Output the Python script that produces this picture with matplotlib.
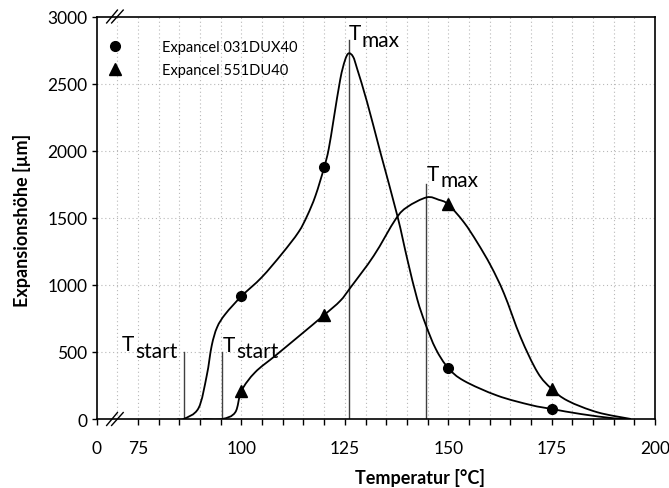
import matplotlib
matplotlib.use("Agg")
import matplotlib.pyplot as plt
import numpy as np
from matplotlib.path import Path
from matplotlib.patches import PathPatch

plt.rcParams['font.family'] = ['Lato', 'DejaVu Sans']

# ---- data ----
# Expancel 031DUX40 curve
t1 = [84.5, 86.0, 89.6, 91.6, 92.8, 94.1, 96.1, 100.0, 104.9, 109.8, 113.8, 115.9,
      117.9, 120.0, 121.1, 122.3, 123.9, 125.0, 125.9, 127.0, 128.0, 130.4, 133.6,
      137.7, 140.1, 142.5, 144.5, 147.0, 150.0, 153.8, 161.9, 170.0, 175.0, 182.1,
      190.1, 194.2]
v1 = [0, 0, 80, 323, 546, 683, 782, 915, 1056, 1232, 1393, 1515,
      1664, 1875, 2012, 2235, 2533, 2670, 2725, 2700, 2608, 2360, 1987,
      1515, 1192, 894, 708, 522, 380, 285, 174, 104, 75, 37,
      5, 0]
# Expancel 551DU40 curve
t2 = [90.7, 95.3, 98.5, 100.0, 103.3, 108.2, 114.0, 120.0, 123.9, 126.4, 132.0,
      137.3, 140.1, 144.8, 147.7, 150.0, 153.8, 157.0, 160.3, 163.5, 167.5,
      171.6, 175.0, 178.9, 186.1, 194.2]
v2 = [0, 0, 50, 210, 348, 472, 620, 775, 881, 981, 1217,
      1490, 1580, 1652, 1634, 1600, 1466, 1317, 1142, 935, 610,
      348, 225, 136, 50, 0]
# measured points (markers)
m_t = [100, 120, 150, 175]
m1_v = [915, 1875, 380, 75]
m2_v = [210, 775, 1600, 225]
labels = ['Expancel 031DUX40', 'Expancel 551DU40']

# characteristic temperatures
t_start = [86.1, 95.3]
t_start_top = [500, 500]
t_max = [125.9, 144.7]
t_max_top = [2824, 1755]

x_ticks = [65, 75, 100, 125, 150, 175, 200]
x_ticklabels = ['0', '75', '100', '125', '150', '175', '200']
y_ticks = [0, 500, 1000, 1500, 2000, 2500, 3000]


def smooth_path(x, y):
    """Excel-like smoothed line: cubic Bezier through the given points."""
    pts = np.column_stack([x, y]).astype(float)
    n = len(pts)
    verts = [pts[0]]
    codes = [Path.MOVETO]
    for i in range(n - 1):
        p0 = pts[i - 1] if i > 0 else pts[i]
        p1 = pts[i]
        p2 = pts[i + 1]
        p3 = pts[i + 2] if i + 2 < n else pts[i + 1]
        c1 = p1 + (p2 - p0) / 6.0
        c2 = p2 - (p3 - p1) / 6.0
        verts += [c1, c2, p2]
        codes += [Path.CURVE4] * 3
    return Path(verts, codes)


fig = plt.figure(figsize=(6.69, 4.89), dpi=100)
ax = fig.add_axes([0.1446, 0.1411, 0.8344, 0.8231])
ax.set_xlim(65, 200)
ax.set_ylim(0, 3000)

# grid
grid_kw = dict(color='#b8b8b8', lw=0.8, ls=(0, (1, 2.5)), zorder=0)
for gx in range(70, 200, 5):
    ax.axvline(gx, **grid_kw)
for gy in y_ticks[1:-1]:
    ax.axhline(gy, **grid_kw)

# curves
for tx, vy in ((t1, v1), (t2, v2)):
    ax.add_patch(PathPatch(smooth_path(tx, vy), facecolor='none', edgecolor='black',
                           lw=1.3, zorder=3))
h1, = ax.plot(m_t, m1_v, ls='none', marker='o', ms=7, color='black', zorder=4, label=labels[0])
h2, = ax.plot(m_t, m2_v, ls='none', marker='^', ms=8, color='black', zorder=4, label=labels[1])

# characteristic lines
for x, top in zip(t_start, t_start_top):
    ax.plot([x, x], [0, top], color='#404040', lw=1.0, zorder=2)
for x, top in zip(t_max, t_max_top):
    ax.plot([x, x], [0, top], color='#404040', lw=1.0, zorder=2)

FS = 15
SUB_DROP = -4.5  # points


def label_left(x, y, sub):
    t = ax.text(x, y, 'T', fontsize=FS, ha='left', va='baseline')
    ax.annotate(sub, xy=(1, 0), xycoords=t, xytext=(0.5, SUB_DROP),
                textcoords='offset points', fontsize=FS, ha='left', va='bottom')


def label_right(x, y, sub):
    s = ax.text(x, y, sub, fontsize=FS, ha='right', va='baseline')
    ax.annotate('T', xy=(0, 0), xycoords=s, xytext=(-0.5, -SUB_DROP),
                textcoords='offset points', fontsize=FS, ha='right', va='bottom')


label_right(t_start[0] - 1.6, t_start_top[0] + 10 - 45, 'start')
label_left(t_start[1] + 0.2, t_start_top[1] + 10, 'start')
label_left(t_max[0] + 0.1, t_max_top[0] + 5, 'max')
label_left(t_max[1] + 0.2, t_max_top[1] + 30, 'max')

# ticks
ax.set_xticks(x_ticks)
ax.set_xticklabels(x_ticklabels)
ax.set_xticks([x for x in range(80, 200, 5) if x % 25 != 0], minor=True)
ax.set_yticks(y_ticks)
ax.tick_params(axis='x', which='both', direction='out', length=4.3, width=1.0, pad=11, labelsize=12.5)
ax.tick_params(axis='y', which='both', direction='out', length=3.3, width=1.0, pad=3.5, labelsize=12.5)
for s in ax.spines.values():
    s.set_linewidth(1.2)
    s.set_color('black')

# axis breaks
tr = ax.get_xaxis_transform()
dy = 0.016
for yb in (0.0, 1.0):
    for x0, x1 in ((67.4, 70.0), (68.6, 71.4)):
        ax.plot([x0, x1], [yb - dy, yb + dy], color='black', lw=1.0,
                transform=tr, clip_on=False, zorder=5)

ax.set_xlabel('Temperatur [°C]', fontsize=13, fontweight='bold')
ax.set_ylabel('Expansionshöhe [µm]', fontsize=13, fontweight='bold')
ax.xaxis.set_label_coords(0.579, -0.122)
ax.yaxis.set_label_coords(-0.118, 0.497)

leg = ax.legend(handles=[h1, h2], loc='upper left', bbox_to_anchor=(0.0197, 0.941),
                frameon=False, fontsize=10.5, handlelength=1.0, handletextpad=2.7,
                borderpad=0, borderaxespad=0, labelspacing=0.58)

fig.savefig('out.png', dpi=100)
